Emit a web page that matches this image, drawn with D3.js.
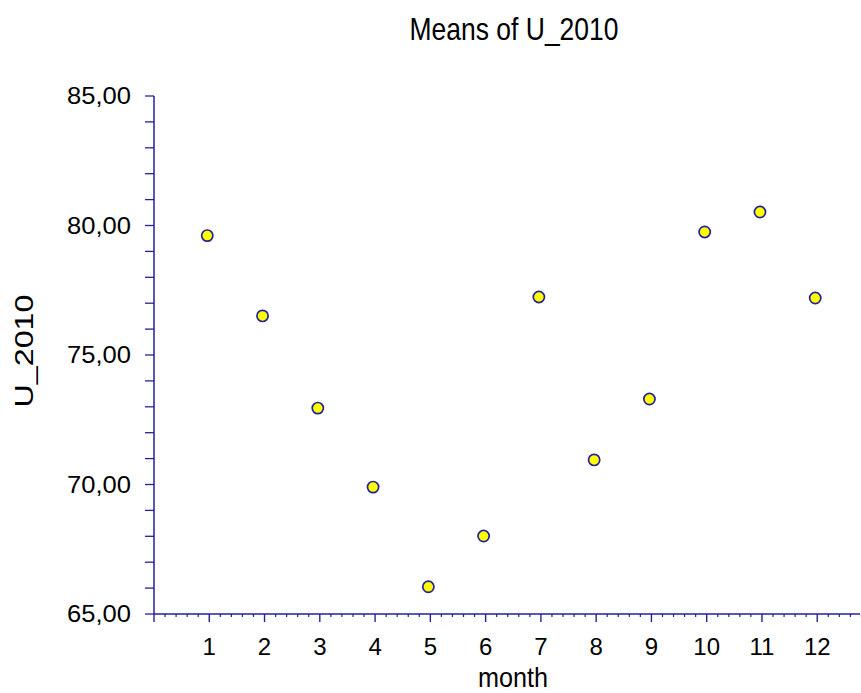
<!DOCTYPE html>
<html><head><meta charset="utf-8">
<script src="https://cdn.jsdelivr.net/npm/d3@7"></script>
<style>body{margin:0;background:#fff}svg{display:block}text{font-family:"Liberation Sans",Arial,sans-serif;fill:#000}</style>
</head><body><div id="chart"></div>
<script>
const months = [1,2,3,4,5,6,7,8,9,10,11,12];
const means = [79.61,76.51,72.95,69.90,66.05,68.01,77.24,70.95,73.30,79.75,80.52,77.20];
const yTickValues = [65,70,75,80,85];
const yTickLabels = ["65,00","70,00","75,00","80,00","85,00"];
const xTickLabels = ["1","2","3","4","5","6","7","8","9","10","11","12"];
const title = "Means of U_2010";
const xTitle = "month";
const yTitle = "U_2010";

const W = 861, H = 693, navy = "#22229a";
const svg = d3.select("#chart").append("svg").attr("width", W).attr("height", H);
const x = d3.scaleLinear().domain([0,13]).range([154, 872.5]);
const y = d3.scaleLinear().domain([65,85]).range([614,96]);

// title
svg.append("text").attr("x",514).attr("y",40).attr("text-anchor","middle")
  .attr("font-size",32).attr("textLength",209).attr("lengthAdjust","spacingAndGlyphs").text(title);

// y axis
const ga = svg.append("g");
ga.append("line").attr("x1",x(0)).attr("x2",x(0)).attr("y1",y(85)).attr("y2",y(65))
  .attr("stroke",navy).attr("stroke-width",1.5);
ga.selectAll(".ymin").data(d3.range(65,86,1)).enter().append("line")
  .attr("x1",x(0)-9).attr("x2",x(0)).attr("y1",d=>y(d)).attr("y2",d=>y(d))
  .attr("stroke",navy).attr("stroke-width",1.3);
ga.selectAll(".ylab").data(yTickValues).enter().append("text")
  .attr("x",131).attr("y",d=>y(d)+8).attr("text-anchor","end").attr("font-size",24)
  .attr("textLength",64).attr("lengthAdjust","spacingAndGlyphs")
  .text((d,i)=>yTickLabels[i]);

// x axis
ga.append("line").attr("x1",x(0)).attr("x2",860).attr("y1",y(65)).attr("y2",y(65))
  .attr("stroke",navy).attr("stroke-width",1.5);
const minors = d3.range(0,12.81,0.2).filter(v=>Math.abs(v-Math.round(v))>0.01);
ga.selectAll(".xmin").data(minors).enter().append("line")
  .attr("x1",d=>x(d)).attr("x2",d=>x(d)).attr("y1",y(65)).attr("y2",y(65)+3)
  .attr("stroke",navy).attr("stroke-width",1.2);
ga.selectAll(".xmaj").data([0].concat(months)).enter().append("line")
  .attr("x1",d=>x(d)).attr("x2",d=>x(d)).attr("y1",y(65)).attr("y2",y(65)+8)
  .attr("stroke",navy).attr("stroke-width",1.4);
ga.selectAll(".xlab").data(months).enter().append("text")
  .attr("x",d=>x(d)).attr("y",655).attr("text-anchor","middle").attr("font-size",24)
  .text((d,i)=>xTickLabels[i]);

svg.append("text").attr("x",513).attr("y",687).attr("text-anchor","middle")
  .attr("font-size",28).attr("textLength",70).attr("lengthAdjust","spacingAndGlyphs").text(xTitle);
svg.append("text").attr("transform","translate(33,351) rotate(-90)").attr("text-anchor","middle")
  .attr("font-size",25).attr("textLength",113).attr("lengthAdjust","spacingAndGlyphs").text(yTitle);

// points
svg.selectAll("circle").data(months).enter().append("circle")
  .attr("cx",d=>x(d)-2).attr("cy",(d,i)=>y(means[i])).attr("r",5.6)
  .attr("fill","#ffff00").attr("stroke",navy).attr("stroke-width",1.7);
</script></body></html>
